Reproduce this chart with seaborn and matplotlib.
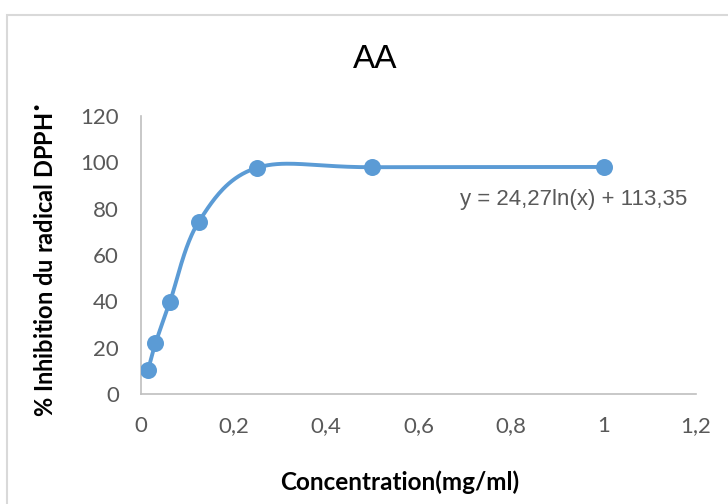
# Recreate the AA DPPH inhibition chart (Excel style smooth scatter)

import numpy as np
import pandas as pd
import matplotlib
matplotlib.use('Agg')
import matplotlib.pyplot as plt
import matplotlib.patches as patches
import seaborn as sns

# Data
concentration = [0.015625, 0.03125, 0.0625, 0.125, 0.25, 0.5, 1.0]
inhibition = [10.5, 21.8, 39.8, 74.4, 97.6, 97.9, 98.0]
x_ticks = [0, 0.2, 0.4, 0.6, 0.8, 1.0, 1.2]
y_ticks = [0, 20, 40, 60, 80, 100, 120]
equation = 'y = 24,27ln(x) + 113,35'

BLUE = '#5B9BD5'
GREY = '#595959'


# Excel draws "smoothed lines" as a Catmull-Rom style Bezier spline
def smooth_curve(xs, ys, n=40):
    pts = np.column_stack([xs, ys])
    pts = np.vstack([pts[0], pts, pts[-1]])
    out = []
    for i in range(1, len(pts) - 2):
        p0, p1, p2, p3 = pts[i - 1], pts[i], pts[i + 1], pts[i + 2]
        c1 = p1 + (p2 - p0) / 6
        c2 = p2 - (p3 - p1) / 6
        t = np.linspace(0, 1, n)[:, None]
        seg = ((1 - t) ** 3) * p1 + 3 * ((1 - t) ** 2) * t * c1 \
            + 3 * (1 - t) * t ** 2 * c2 + t ** 3 * p2
        out.append(seg)
    out = np.vstack(out)
    return out[:, 0], out[:, 1]


sx, sy = smooth_curve(concentration, inhibition)
curve = pd.DataFrame({'x': sx, 'y': sy})
points = pd.DataFrame({'x': concentration, 'y': inhibition})

sns.set_style('white')
plt.rcParams['font.family'] = ['Lato', 'DejaVu Sans']

fig = plt.figure(figsize=(7.28, 5.04), dpi=100)
ax = fig.add_axes([141 / 728, 110 / 504, 555 / 728, 278 / 504])

sns.lineplot(data=curve, x='x', y='y', ax=ax, color=BLUE, linewidth=2.8,
             sort=False, estimator=None)
sns.scatterplot(data=points, x='x', y='y', ax=ax, color=BLUE, s=150,
                edgecolor=BLUE, linewidth=0, zorder=3)

ax.set_xlim(0, 1.2)
ax.set_ylim(0, 120)
ax.set_xticks(x_ticks)
ax.set_yticks(y_ticks)
ax.set_xticklabels([f'{v:g}'.replace('.', ',') for v in x_ticks])
ax.set_yticklabels([str(v) for v in y_ticks])
ax.tick_params(axis='both', length=0, labelsize=16, labelcolor=GREY)
ax.tick_params(axis='x', pad=16)
ax.tick_params(axis='y', pad=16)

for side in ['top', 'right']:
    ax.spines[side].set_visible(False)
for side in ['left', 'bottom']:
    ax.spines[side].set_color('#bfbfbf')
    ax.spines[side].set_linewidth(1.2)

ax.set_xlabel('Concentration(mg/ml)', fontsize=17.5, fontweight='bold',
              color='black', va='center')
ax.xaxis.set_label_coords((400 - 141) / 555, (394 - 482) / 278)
ax.set_ylabel(r'% Inhibition du radical DPPH$^{\bullet}$', fontsize=17,
              fontweight='bold', color='black', va='center')
ax.yaxis.set_label_coords((46 - 141) / 555, (394 - 260) / 278)

fig.text(375 / 728, 1 - 60 / 504, 'AA', fontsize=24, ha='center', va='center',
         family='Liberation Sans', color='black')
ax.text(0.936, 84, equation, fontsize=16, ha='center', va='center',
        family='Liberation Sans', color=GREY)

# light chart-area border, as in the Excel export
fig.patches.append(patches.Rectangle((6.5 / 728, -0.1), 1.2, (504 - 14.5) / 504 + 0.1,
                                     transform=fig.transFigure, fill=False,
                                     edgecolor='#d9d9d9', linewidth=1.5))

fig.savefig('out.png', dpi=100)
